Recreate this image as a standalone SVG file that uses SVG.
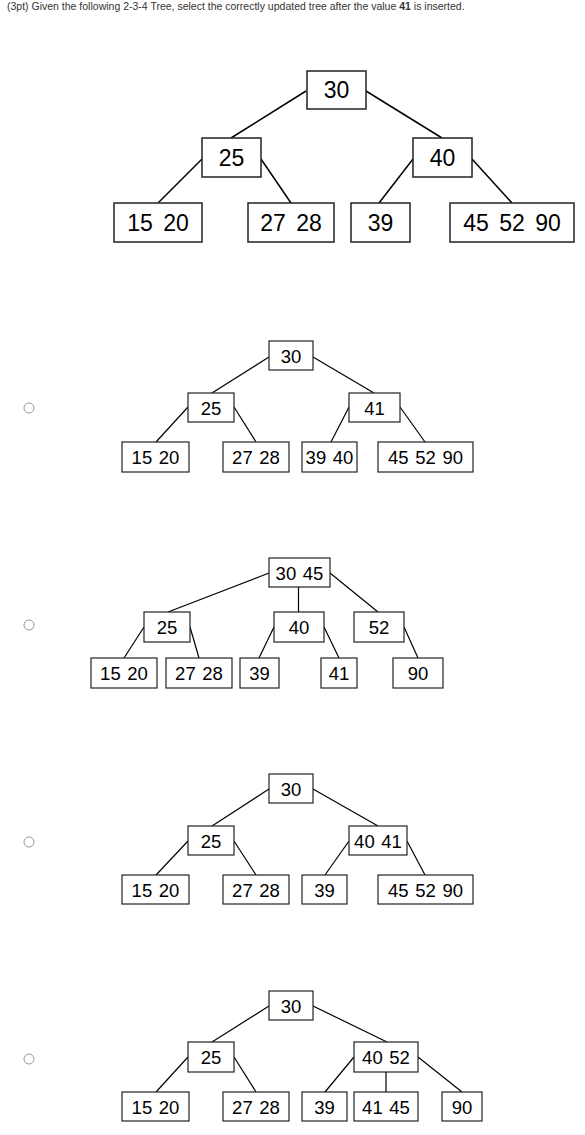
<svg xmlns="http://www.w3.org/2000/svg" width="585" height="1135" viewBox="0 0 585 1135">
<style>
.bg{fill:#fff}
.hdr{font-family:"Liberation Sans",Arial,sans-serif;font-size:10.5px;fill:#333}
.box{fill:#fff;stroke:#222;stroke-width:1.5}
.sbox{fill:#fff;stroke:#222;stroke-width:1.2}
.big{font-family:"Liberation Sans",Arial,sans-serif;font-size:23px;fill:#000;text-anchor:middle;word-spacing:4px}
.sm{font-family:"Liberation Sans",Arial,sans-serif;font-size:18.5px;fill:#000;text-anchor:middle;word-spacing:1.5px}
.edge{stroke:#000;stroke-width:1.5;fill:none}
.sedge{stroke:#000;stroke-width:1.2;fill:none}
.radio{fill:#fff;stroke:#999;stroke-width:1}
</style>
<rect class="bg" x="0" y="0" width="585" height="1135"/>
<text class="hdr" x="7" y="10">(3pt) Given the following 2-3-4 Tree, select the correctly updated tree after the value <tspan font-weight="bold">41</tspan> is inserted.</text>

<!-- main tree -->
<g id="main-edges">
<line class="edge" x1="306" y1="91" x2="231" y2="138"/>
<line class="edge" x1="366" y1="91" x2="442" y2="138"/>
<line class="edge" x1="202" y1="159" x2="158" y2="203"/>
<line class="edge" x1="261" y1="159" x2="291" y2="203"/>
<line class="edge" x1="413" y1="159" x2="379" y2="203"/>
<line class="edge" x1="472" y1="159" x2="512" y2="203"/>
</g>
<g id="m-30"><rect class="box" x="307" y="71" width="59" height="38"/><text class="big" x="336.5" y="98">30</text></g>
<g id="m-25"><rect class="box" x="202" y="138" width="59" height="39"/><text class="big" x="231.5" y="166">25</text></g>
<g id="m-40"><rect class="box" x="413" y="138" width="59" height="39"/><text class="big" x="442.5" y="166">40</text></g>
<g id="m-1520"><rect class="box" x="114" y="203" width="88" height="39"/><text class="big" x="158" y="231">15 20</text></g>
<g id="m-2728"><rect class="box" x="248" y="203" width="86" height="39"/><text class="big" x="291" y="231">27 28</text></g>
<g id="m-39"><rect class="box" x="351" y="203" width="59" height="39"/><text class="big" x="380.5" y="231">39</text></g>
<g id="m-455290"><rect class="box" x="450" y="203" width="124" height="39"/><text class="big" x="512" y="231">45 52 90</text></g>

<!-- option A -->
<circle class="radio" cx="29" cy="408" r="5"/>
<g id="a-edges">
<line class="sedge" x1="269" y1="357" x2="212" y2="393"/>
<line class="sedge" x1="313" y1="357" x2="374" y2="393"/>
<line class="sedge" x1="188" y1="407" x2="156" y2="442"/>
<line class="sedge" x1="234" y1="407" x2="256" y2="442"/>
<line class="sedge" x1="349" y1="407" x2="331" y2="442"/>
<line class="sedge" x1="400" y1="407" x2="425" y2="442"/>
</g>
<g id="a-30"><rect class="sbox" x="269" y="341" width="44" height="29"/><text class="sm" x="291" y="362.5">30</text></g>
<g id="a-25"><rect class="sbox" x="188" y="393" width="46" height="29"/><text class="sm" x="211" y="414.5">25</text></g>
<g id="a-41"><rect class="sbox" x="349" y="393" width="51" height="29"/><text class="sm" x="374.5" y="414.5">41</text></g>
<g id="a-1520"><rect class="sbox" x="122" y="442" width="67" height="30"/><text class="sm" x="155.5" y="464">15 20</text></g>
<g id="a-2728"><rect class="sbox" x="223" y="442" width="66" height="30"/><text class="sm" x="256" y="464">27 28</text></g>
<g id="a-3940"><rect class="sbox" x="302" y="442" width="55" height="30"/><text class="sm" x="329.5" y="464">39 40</text></g>
<g id="a-455290"><rect class="sbox" x="378" y="442" width="95" height="30"/><text class="sm" x="425.5" y="464">45 52 90</text></g>

<!-- option B -->
<circle class="radio" cx="29" cy="625" r="5"/>
<g id="b-edges">
<line class="sedge" x1="269" y1="573" x2="168" y2="612"/>
<line class="sedge" x1="298.5" y1="587" x2="298.5" y2="612"/>
<line class="sedge" x1="330" y1="573" x2="378" y2="612"/>
<line class="sedge" x1="144" y1="627" x2="124" y2="658"/>
<line class="sedge" x1="190" y1="627" x2="199" y2="658"/>
<line class="sedge" x1="274" y1="627" x2="259" y2="658"/>
<line class="sedge" x1="324" y1="627" x2="339" y2="658"/>
<line class="sedge" x1="404" y1="627" x2="418" y2="658"/>
</g>
<g id="b-3045"><rect class="sbox" x="269" y="558" width="61" height="29"/><text class="sm" x="299.5" y="579.5">30 45</text></g>
<g id="b-25"><rect class="sbox" x="144" y="612" width="46" height="30"/><text class="sm" x="167" y="634">25</text></g>
<g id="b-40"><rect class="sbox" x="274" y="612" width="50" height="30"/><text class="sm" x="299" y="634">40</text></g>
<g id="b-52"><rect class="sbox" x="354" y="612" width="50" height="30"/><text class="sm" x="379" y="634">52</text></g>
<g id="b-1520"><rect class="sbox" x="91" y="658" width="66" height="30"/><text class="sm" x="124" y="680">15 20</text></g>
<g id="b-2728"><rect class="sbox" x="166" y="658" width="66" height="30"/><text class="sm" x="199" y="680">27 28</text></g>
<g id="b-39"><rect class="sbox" x="240" y="658" width="39" height="30"/><text class="sm" x="259.5" y="680">39</text></g>
<g id="b-41"><rect class="sbox" x="321" y="658" width="36" height="30"/><text class="sm" x="339" y="680">41</text></g>
<g id="b-90"><rect class="sbox" x="393" y="658" width="50" height="30"/><text class="sm" x="418" y="680">90</text></g>

<!-- option C -->
<circle class="radio" cx="29" cy="842" r="5"/>
<g id="c-edges">
<line class="sedge" x1="269" y1="789" x2="212" y2="826"/>
<line class="sedge" x1="313" y1="789" x2="378" y2="826"/>
<line class="sedge" x1="188" y1="841" x2="156" y2="875"/>
<line class="sedge" x1="234" y1="841" x2="256" y2="875"/>
<line class="sedge" x1="349" y1="841" x2="325" y2="875"/>
<line class="sedge" x1="407" y1="841" x2="425" y2="875"/>
</g>
<g id="c-30"><rect class="sbox" x="269" y="774" width="44" height="29"/><text class="sm" x="291" y="795.5">30</text></g>
<g id="c-25"><rect class="sbox" x="188" y="826" width="46" height="29"/><text class="sm" x="211" y="847.5">25</text></g>
<g id="c-4041"><rect class="sbox" x="349" y="826" width="58" height="29"/><text class="sm" x="378" y="847.5">40 41</text></g>
<g id="c-1520"><rect class="sbox" x="122" y="875" width="67" height="29"/><text class="sm" x="155.5" y="896.5">15 20</text></g>
<g id="c-2728"><rect class="sbox" x="223" y="875" width="66" height="29"/><text class="sm" x="256" y="896.5">27 28</text></g>
<g id="c-39"><rect class="sbox" x="302" y="875" width="45" height="29"/><text class="sm" x="324.5" y="896.5">39</text></g>
<g id="c-455290"><rect class="sbox" x="378" y="875" width="95" height="29"/><text class="sm" x="425.5" y="896.5">45 52 90</text></g>

<!-- option D -->
<circle class="radio" cx="29" cy="1059" r="5"/>
<g id="d-edges">
<line class="sedge" x1="269" y1="1006" x2="212" y2="1042"/>
<line class="sedge" x1="313" y1="1006" x2="387" y2="1042"/>
<line class="sedge" x1="188" y1="1057" x2="156" y2="1092"/>
<line class="sedge" x1="234" y1="1057" x2="256" y2="1092"/>
<line class="sedge" x1="354" y1="1057" x2="325" y2="1092"/>
<line class="sedge" x1="386" y1="1072" x2="386" y2="1092"/>
<line class="sedge" x1="418" y1="1057" x2="462" y2="1092"/>
</g>
<g id="d-30"><rect class="sbox" x="269" y="991" width="44" height="29"/><text class="sm" x="291" y="1012.5">30</text></g>
<g id="d-25"><rect class="sbox" x="188" y="1042" width="46" height="30"/><text class="sm" x="211" y="1064">25</text></g>
<g id="d-4052"><rect class="sbox" x="354" y="1042" width="64" height="30"/><text class="sm" x="386" y="1064">40 52</text></g>
<g id="d-1520"><rect class="sbox" x="122" y="1092" width="67" height="29"/><text class="sm" x="155.5" y="1113.5">15 20</text></g>
<g id="d-2728"><rect class="sbox" x="223" y="1092" width="66" height="29"/><text class="sm" x="256" y="1113.5">27 28</text></g>
<g id="d-39"><rect class="sbox" x="302" y="1092" width="45" height="29"/><text class="sm" x="324.5" y="1113.5">39</text></g>
<g id="d-4145"><rect class="sbox" x="354" y="1092" width="64" height="29"/><text class="sm" x="386" y="1113.5">41 45</text></g>
<g id="d-90"><rect class="sbox" x="442" y="1092" width="40" height="29"/><text class="sm" x="462" y="1113.5">90</text></g>
</svg>
